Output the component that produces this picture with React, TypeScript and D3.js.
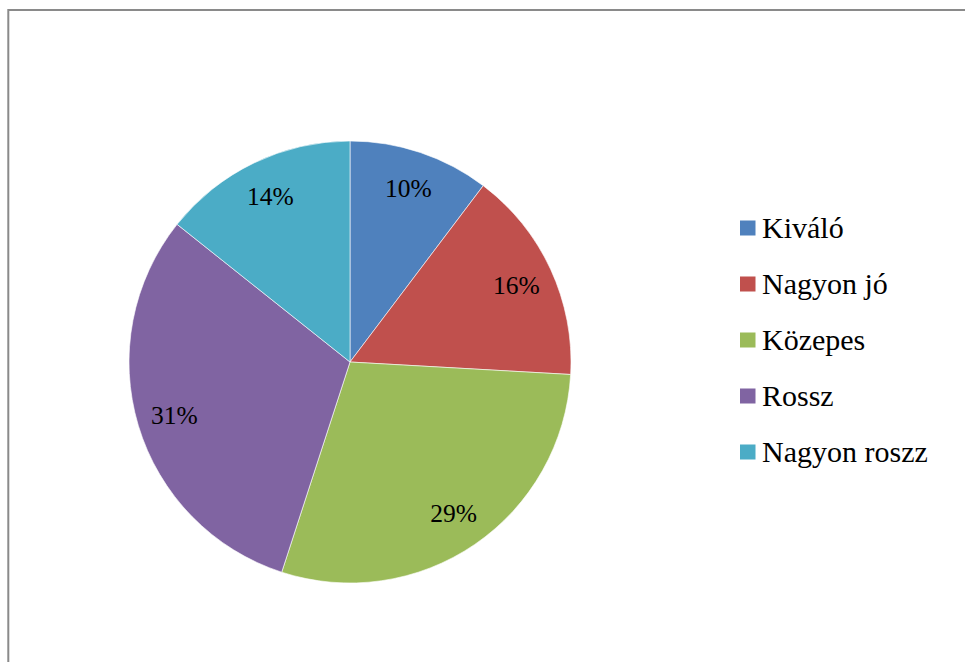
import { useEffect, useRef } from 'react';
import * as d3 from 'd3';

const categories = ['Kiváló', 'Nagyon jó', 'Közepes', 'Rossz', 'Nagyon roszz'];
const values = [10.3, 15.6, 29.1, 30.7, 14.3];
const colors = ['#4F81BD', '#C0504D', '#9BBB59', '#8064A2', '#4BACC6'];

const FONT = 'Liberation Serif';

const App = () => {
  const svgRef = useRef<SVGSVGElement>(null);

  useEffect(() => {
    const width = 965;
    const height = 662;
    const cx = 350;
    const cy = 362;
    const radius = 221;

    const svg = d3.select(svgRef.current)
      .attr('width', width)
      .attr('height', height);
    svg.selectAll('*').remove();

    // chart frame: only the top and left edges fall inside the window
    svg.append('path')
      .attr('d', `M8.3,${height + 10} V10 H${width + 10}`)
      .attr('fill', 'none')
      .attr('stroke', '#8a8a8a')
      .attr('stroke-width', 2);

    const data = categories.map((c, i) => ({ label: c, value: values[i], color: colors[i] }));
    const total = d3.sum(values);

    const pie = d3.pie<any>().sort(null).value(d => d.value);
    const arc = d3.arc<any>().innerRadius(0).outerRadius(radius);
    const labelArc = d3.arc<any>().innerRadius(radius * 0.83).outerRadius(radius * 0.83);

    const g = svg.append('g').attr('transform', `translate(${cx}, ${cy})`);
    const arcs = pie(data);

    g.selectAll('.slice')
      .data(arcs)
      .enter().append('path')
      .attr('class', 'slice')
      .attr('d', arc)
      .attr('fill', d => d.data.color)
      .attr('stroke', '#ffffff')
      .attr('stroke-width', 0.6);

    g.selectAll('.pct')
      .data(arcs)
      .enter().append('text')
      .attr('class', 'pct')
      .attr('transform', d => `translate(${labelArc.centroid(d)})`)
      .attr('text-anchor', 'middle')
      .attr('dy', '0.34em')
      .attr('font-family', FONT)
      .attr('font-size', 25.5)
      .attr('fill', '#000')
      .text(d => `${Math.round(d.data.value / total * 100)}%`);

    // legend
    const legend = svg.append('g').attr('transform', 'translate(740, 228)');
    const rows = legend.selectAll('.row')
      .data(data)
      .enter().append('g')
      .attr('class', 'row')
      .attr('transform', (_, i) => `translate(0, ${i * 56})`);

    rows.append('rect')
      .attr('x', 0)
      .attr('y', -7.5)
      .attr('width', 15.5)
      .attr('height', 15)
      .attr('fill', d => d.color);

    rows.append('text')
      .attr('x', 22)
      .attr('y', 9.5)
      .attr('font-family', FONT)
      .attr('font-size', 30)
      .attr('fill', '#000')
      .text(d => d.label);
  }, []);

  return <svg ref={svgRef} style={{ position: 'absolute', left: 0, top: 0 }} />;
};

export default App;
